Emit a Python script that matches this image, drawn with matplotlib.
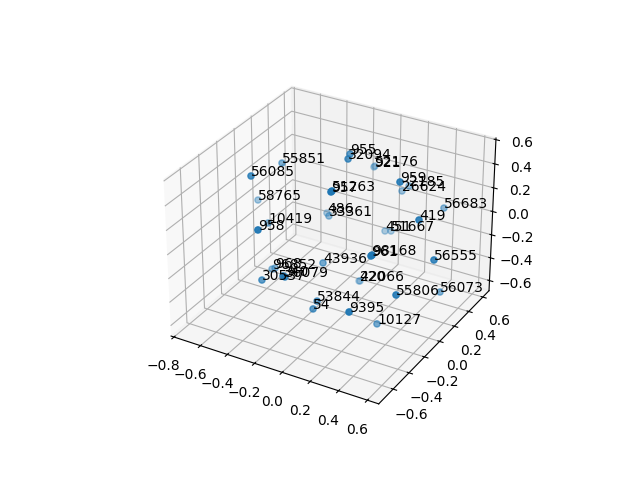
import matplotlib
matplotlib.use('Agg')
import matplotlib.pyplot as plt

labels = ['55851', '56085', '58765', '10419', '958', '955', '32094', '921', '52176', '957',
          '51263', '959', '2185', '26624', '56683', '419', '486', '33361', '451', '51667',
          '961', '98168', '56555', '43936', '96852', '968', '30537', '36079', '340', '420',
          '22066', '55806', '56073', '53844', '54', '9395', '10127']
xs = [-.495, -.449, -.691, -.517, -.221, -.027, .005, -.171, -.167, .133,
      .106, .416, .147, .116, .431, .573, -.322, -.229, .034, .068,
      .407, .443, .677, -.076, -.460, -.445, -.305, -.079, -.091, -.069,
      -.063, .566, .576, -.012, .015, .377, .314]
ys = [.041, -.388, .056, -.100, -.674, .087, .008, .649, .655, -.414,
      -.357, -.077, .544, .508, .489, -.118, .303, .171, .439, .458,
      -.408, -.460, -.108, -.160, -.152, -.140, -.512, -.604, -.607, .285,
      .288, -.378, .185, -.340, -.433, -.615, -.156]
zs = [.400, .543, .019, -.031, .345, .592, .604, .136, .142, .613,
      .580, .593, .130, .098, .065, .362, -.115, -.034, -.233, -.233,
      .188, .239, .066, -.186, -.376, -.369, -.193, -.031, -.025, -.614,
      -.614, -.093, -.420, -.375, -.373, -.150, -.571]

fig = plt.figure()
ax = fig.add_subplot(projection='3d')
ax.scatter(xs, ys, zs)
for label, x, y, z in zip(labels, xs, ys, zs):
    ax.text(x, y, z, label)

ax.set_xlim(-0.822, 0.678)
ax.set_ylim(-0.777, 0.69)
ax.set_zlim(-0.69, 0.613)

fig.savefig('out.png')
